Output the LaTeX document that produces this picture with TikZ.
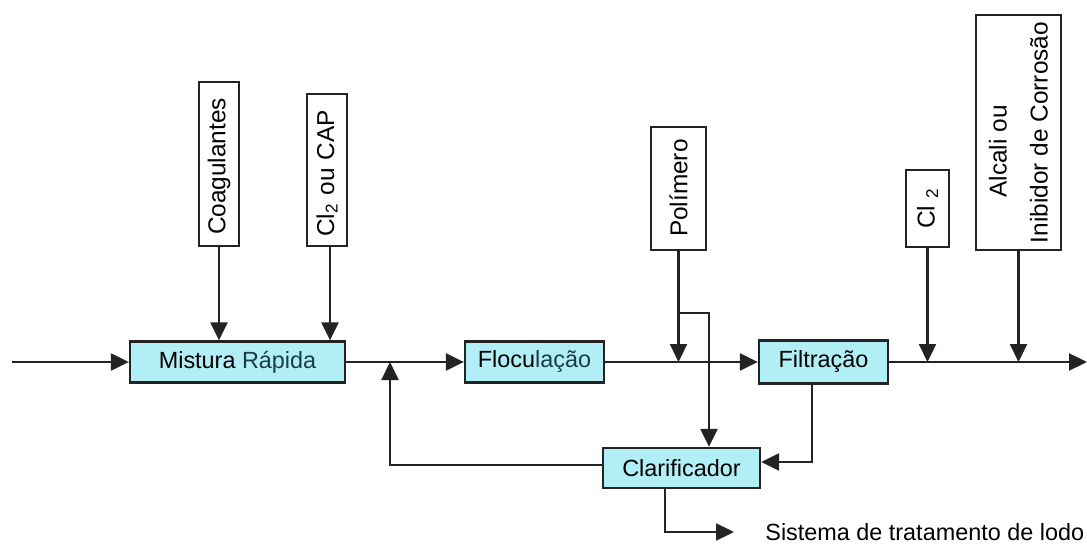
\documentclass[tikz,border=0pt]{standalone}
\usepackage{fontspec}
\setmainfont{Liberation Sans}
\usetikzlibrary{arrows.meta,calc}
\definecolor{boxfill}{RGB}{178,238,245}
\definecolor{ink}{RGB}{35,35,35}
\definecolor{tealtext}{RGB}{25,60,75}
\begin{document}
\begin{tikzpicture}[x=0.5pt,y=-0.5pt,
  flow/.style={draw=ink,line width=1.15pt,-{Triangle[length=9pt,width=8.5pt]}},
  unit/.style={draw=ink,line width=1.15pt,fill=boxfill,inner sep=0pt,
    font=\fontsize{11.7}{14}\selectfont},
  dose/.style={draw=ink,line width=1.15pt,fill=white,rotate=90,inner ysep=0pt,
    font=\fontsize{12.2}{14.5}\selectfont},
  plain/.style={inner sep=0pt,font=\fontsize{11.7}{14}\selectfont},
]
\useasboundingbox (0,0) rectangle (1087,545);

% treatment units
\node[unit,minimum width=107.5pt,minimum height=20.5pt] (mix) at (237.5,362)
  {Mistura \textcolor{tealtext}{Rápida}};
\node[unit,minimum width=69.5pt,minimum height=20.5pt] (floc) at (534.5,362)
  {Flocu\textcolor{tealtext}{lação}};
\node[unit,minimum width=64.5pt,minimum height=21.5pt] (filt) at (823.5,362)
  {Filtração};
\node[unit,minimum width=78.5pt,minimum height=20pt] (clar) at (681.5,468)
  {Clarificador};

% chemical dosing boxes (rotated: .west is the bottom edge)
\node[dose,align=left,inner xsep=5.5pt,text width=71pt,minimum height=20pt]
  (coag) at (219,164) {Coagulantes};
\node[dose,align=left,inner xsep=4.5pt,text width=67pt,minimum height=20pt]
  (clcap) at (327,170) {Cl\textsubscript{2} ou CAP};
\node[dose,align=left,inner xsep=6.5pt,text width=48.5pt,minimum height=27.5pt]
  (poly) at (678.5,188.5) {Polímero};
\node[dose,align=center,minimum width=38.5pt,minimum height=21.5pt]
  (chl) at (927.5,208.5) {Cl \textsubscript{2}};
\node[dose,align=center,minimum width=116.5pt,minimum height=42.5pt,
  font=\fontsize{12.2}{20.5}\selectfont]
  (alk) at (1018.5,132.5) {Alcali ou\hspace*{19pt}\\Inibidor de Corrosão};

% main line
\coordinate (src) at (12,362);
\coordinate (sink) at (1087,362);
\draw[flow] (src) -- (mix.west);
\draw[flow] (mix.east) -- (floc.west);
\draw[flow] (floc.east) -- (filt.west);
\draw[flow] (filt.east) -- (sink);

% dosing
\draw[flow] (coag.west) -- (coag.west |- mix.north);
\draw[flow] ($(clcap.west)+(3,0)$) -- ($(clcap.west |- mix.north)+(3,0)$);
\draw[flow] (poly.west) -- (poly.west |- floc.east);
\draw[flow] (chl.west) -- (chl.west |- filt.east);
\draw[flow] (alk.west) -- (alk.west |- filt.east);

% polymer branch to the clarifier
\coordinate (br) at (709,313);
\draw[flow] (poly.west |- br) -- (br) -- (br |- clar.north);

% filter wash water to the clarifier
\coordinate (fd) at (812,462);
\draw[flow] (filt.south -| fd) -- (fd) -- (fd -| clar.east);

% clarified water recycled to the head
\coordinate (fb) at (390,465);
\draw[flow] (clar.west |- fb) -- (fb) -- (fb |- mix.east);

% sludge outlet
\coordinate (sd) at (665,532);
\coordinate (sdend) at (734,532);
\draw[flow] (clar.south -| sd) -- (sd) -- (sdend);
\node[plain,anchor=base west] (sludge) at (765,540) {Sistema de tratamento de lodo};
\end{tikzpicture}
\end{document}
